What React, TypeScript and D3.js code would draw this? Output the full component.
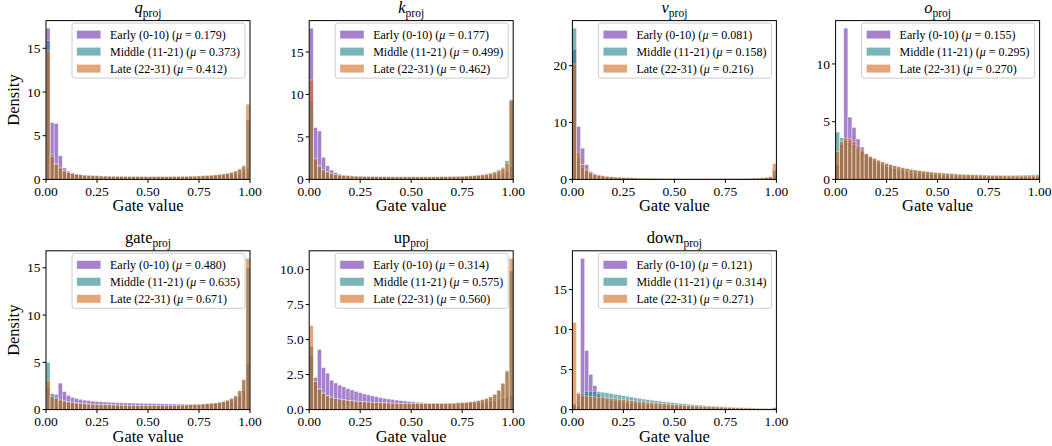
import React from 'react';
import * as d3 from 'd3';

// ---------- data ----------
const GROUPS = ['Early (0-10)', 'Middle (11-21)', 'Late (22-31)'];
const COLORS = ['#6a2fac', '#1e828a', '#d2691e'];
const PANEL_NAMES = ['q', 'k', 'v', 'o', 'gate', 'up', 'down'];
const PANEL_ITALIC = [true, true, true, true, false, false, false];
const MEANS = [
  ['0.179', '0.373', '0.412'],
  ['0.177', '0.499', '0.462'],
  ['0.081', '0.158', '0.216'],
  ['0.155', '0.295', '0.270'],
  ['0.480', '0.635', '0.671'],
  ['0.314', '0.575', '0.560'],
  ['0.121', '0.314', '0.271'],
];
const Y_TICKS = [
  [0, 5, 10, 15],
  [0, 5, 10, 15],
  [0, 10, 20],
  [0, 5, 10],
  [0, 5, 10, 15],
  [0, 2.5, 5, 7.5, 10],
  [0, 5, 10, 15],
];
const X_TICKS = [0, 0.25, 0.5, 0.75, 1];
const X_TICK_LABELS = ['0.00', '0.25', '0.50', '0.75', '1.00'];
const N_BINS = 50;

// density per bin (50 bins over [0,1])
const qEarly = [17.3, 6.5, 6.4, 2.7, 1.3, 0.95, 0.75, 0.62, 0.55, 0.5, 0.46, 0.43, 0.41, 0.39, 0.37, 0.36, 0.35, 0.34, 0.33, 0.33, 0.32, 0.32, 0.31, 0.31, 0.31, 0.3, 0.3, 0.3, 0.3, 0.3, 0.3, 0.3, 0.3, 0.3, 0.31, 0.31, 0.32, 0.33, 0.34, 0.36, 0.38, 0.4, 0.43, 0.46, 0.5, 0.55, 0.62, 0.72, 0.9, 1.2];
const qMiddle = [15.9, 2.8, 1.8, 1.4, 1.0, 0.8, 0.68, 0.6, 0.54, 0.5, 0.47, 0.44, 0.42, 0.4, 0.38, 0.37, 0.36, 0.35, 0.35, 0.34, 0.34, 0.33, 0.33, 0.33, 0.32, 0.32, 0.32, 0.32, 0.32, 0.32, 0.32, 0.33, 0.33, 0.34, 0.35, 0.36, 0.37, 0.39, 0.41, 0.44, 0.47, 0.51, 0.56, 0.62, 0.7, 0.8, 0.95, 1.15, 1.6, 6.8];
const qLate = [14.7, 2.6, 1.7, 1.3, 0.95, 0.78, 0.66, 0.58, 0.52, 0.48, 0.45, 0.42, 0.4, 0.38, 0.37, 0.36, 0.35, 0.34, 0.34, 0.33, 0.33, 0.33, 0.32, 0.32, 0.32, 0.32, 0.32, 0.32, 0.32, 0.32, 0.33, 0.33, 0.34, 0.35, 0.36, 0.37, 0.38, 0.4, 0.42, 0.45, 0.48, 0.52, 0.57, 0.63, 0.71, 0.82, 0.97, 1.2, 1.5, 8.6];

const kEarly = [17.8, 6.1, 5.7, 2.6, 1.6, 1.1, 0.8, 0.62, 0.52, 0.46, 0.42, 0.4, 0.38, 0.36, 0.35, 0.34, 0.33, 0.32, 0.32, 0.31, 0.31, 0.3, 0.3, 0.3, 0.3, 0.29, 0.29, 0.29, 0.29, 0.29, 0.29, 0.29, 0.29, 0.3, 0.3, 0.31, 0.31, 0.32, 0.33, 0.34, 0.36, 0.38, 0.4, 0.43, 0.47, 0.52, 0.6, 0.72, 0.95, 1.5];
const kMiddle = [9.3, 2.5, 1.6, 1.2, 0.9, 0.72, 0.6, 0.52, 0.47, 0.43, 0.4, 0.38, 0.36, 0.35, 0.34, 0.33, 0.32, 0.32, 0.31, 0.31, 0.31, 0.3, 0.3, 0.3, 0.3, 0.3, 0.3, 0.3, 0.3, 0.31, 0.31, 0.31, 0.32, 0.33, 0.34, 0.35, 0.36, 0.38, 0.4, 0.43, 0.47, 0.52, 0.58, 0.66, 0.77, 0.92, 1.12, 1.4, 2.2, 9.4];
const kLate = [11.7, 2.4, 1.5, 1.1, 0.85, 0.7, 0.58, 0.5, 0.45, 0.42, 0.39, 0.37, 0.35, 0.34, 0.33, 0.32, 0.32, 0.31, 0.31, 0.3, 0.3, 0.3, 0.3, 0.3, 0.3, 0.3, 0.3, 0.3, 0.3, 0.3, 0.31, 0.31, 0.32, 0.32, 0.33, 0.34, 0.35, 0.37, 0.39, 0.41, 0.44, 0.48, 0.53, 0.6, 0.7, 0.82, 1.0, 1.3, 1.9, 9.3];

const vEarly = [22.8, 9.3, 5.5, 2.6, 1.4, 1.0, 0.78, 0.62, 0.5, 0.42, 0.36, 0.32, 0.28, 0.25, 0.22, 0.2, 0.18, 0.17, 0.16, 0.15, 0.14, 0.13, 0.12, 0.12, 0.11, 0.11, 0.1, 0.1, 0.1, 0.1, 0.1, 0.1, 0.1, 0.1, 0.1, 0.1, 0.1, 0.1, 0.1, 0.11, 0.11, 0.12, 0.12, 0.13, 0.14, 0.15, 0.17, 0.2, 0.25, 0.5];
const vMiddle = [26.6, 3.9, 2.1, 1.5, 1.0, 0.8, 0.66, 0.56, 0.48, 0.42, 0.37, 0.33, 0.3, 0.27, 0.25, 0.23, 0.21, 0.2, 0.19, 0.18, 0.17, 0.16, 0.15, 0.15, 0.14, 0.14, 0.13, 0.13, 0.13, 0.13, 0.13, 0.13, 0.13, 0.13, 0.13, 0.13, 0.13, 0.14, 0.14, 0.15, 0.15, 0.16, 0.17, 0.18, 0.2, 0.22, 0.25, 0.3, 0.4, 1.6];
const vLate = [20.3, 4.8, 2.6, 1.8, 1.2, 0.9, 0.75, 0.63, 0.54, 0.47, 0.42, 0.38, 0.34, 0.31, 0.29, 0.27, 0.25, 0.24, 0.23, 0.22, 0.21, 0.2, 0.19, 0.18, 0.18, 0.17, 0.17, 0.17, 0.16, 0.16, 0.16, 0.16, 0.16, 0.16, 0.16, 0.17, 0.17, 0.17, 0.18, 0.18, 0.19, 0.2, 0.21, 0.22, 0.24, 0.26, 0.3, 0.36, 0.5, 2.8];

const oEarly = [1.3, 3.0, 13.1, 5.4, 4.5, 3.5, 2.8, 2.2, 1.85, 1.6, 1.4, 1.25, 1.1, 1.0, 0.9, 0.82, 0.75, 0.68, 0.62, 0.57, 0.52, 0.48, 0.44, 0.41, 0.38, 0.35, 0.33, 0.31, 0.29, 0.27, 0.26, 0.25, 0.24, 0.23, 0.22, 0.21, 0.2, 0.2, 0.19, 0.19, 0.18, 0.18, 0.18, 0.18, 0.17, 0.17, 0.17, 0.17, 0.17, 0.17];
const oMiddle = [4.1, 3.6, 3.4, 3.2, 3.0, 2.7, 2.4, 2.15, 1.95, 1.8, 1.65, 1.5, 1.38, 1.27, 1.17, 1.08, 1.0, 0.93, 0.87, 0.81, 0.76, 0.71, 0.67, 0.63, 0.6, 0.57, 0.54, 0.52, 0.5, 0.48, 0.46, 0.44, 0.43, 0.42, 0.41, 0.4, 0.39, 0.38, 0.37, 0.37, 0.36, 0.36, 0.36, 0.36, 0.37, 0.37, 0.38, 0.39, 0.4, 0.42];
const oLate = [2.4, 3.3, 3.6, 3.5, 3.3, 2.9, 2.55, 2.25, 2.0, 1.82, 1.66, 1.52, 1.4, 1.28, 1.18, 1.09, 1.01, 0.94, 0.88, 0.82, 0.77, 0.72, 0.68, 0.64, 0.6, 0.57, 0.54, 0.51, 0.49, 0.46, 0.44, 0.42, 0.41, 0.39, 0.38, 0.37, 0.36, 0.35, 0.34, 0.33, 0.32, 0.32, 0.31, 0.31, 0.3, 0.3, 0.3, 0.3, 0.3, 0.3];

const gateEarly = [2.3, 1.5, 1.6, 2.8, 1.9, 1.5, 1.3, 1.18, 1.08, 1.0, 0.95, 0.9, 0.86, 0.83, 0.8, 0.78, 0.76, 0.74, 0.72, 0.71, 0.7, 0.69, 0.68, 0.67, 0.66, 0.65, 0.64, 0.63, 0.62, 0.61, 0.6, 0.6, 0.59, 0.59, 0.59, 0.59, 0.6, 0.6, 0.61, 0.62, 0.64, 0.66, 0.7, 0.75, 0.82, 0.92, 1.1, 1.4, 2.0, 4.8];
const gateMiddle = [5.0, 1.7, 1.3, 1.1, 0.95, 0.85, 0.78, 0.72, 0.68, 0.64, 0.61, 0.58, 0.56, 0.54, 0.52, 0.51, 0.5, 0.49, 0.48, 0.47, 0.46, 0.46, 0.45, 0.45, 0.45, 0.45, 0.45, 0.45, 0.45, 0.46, 0.46, 0.47, 0.48, 0.49, 0.5, 0.52, 0.54, 0.56, 0.59, 0.62, 0.66, 0.71, 0.78, 0.87, 1.0, 1.18, 1.45, 1.95, 3.1, 15.0];
const gateLate = [3.1, 1.4, 1.15, 1.0, 0.88, 0.8, 0.73, 0.68, 0.64, 0.6, 0.57, 0.55, 0.53, 0.51, 0.5, 0.49, 0.48, 0.47, 0.46, 0.45, 0.45, 0.44, 0.44, 0.44, 0.44, 0.44, 0.44, 0.44, 0.44, 0.45, 0.45, 0.46, 0.47, 0.48, 0.49, 0.51, 0.53, 0.55, 0.58, 0.61, 0.65, 0.7, 0.77, 0.86, 0.99, 1.17, 1.45, 2.0, 3.2, 16.0];

const upEarly = [3.8, 2.3, 4.3, 3.0, 2.6, 2.1, 1.9, 1.75, 1.62, 1.5, 1.4, 1.3, 1.2, 1.12, 1.05, 0.98, 0.92, 0.86, 0.81, 0.76, 0.72, 0.68, 0.64, 0.61, 0.58, 0.55, 0.53, 0.51, 0.49, 0.47, 0.46, 0.45, 0.44, 0.43, 0.43, 0.43, 0.43, 0.43, 0.44, 0.45, 0.46, 0.48, 0.5, 0.53, 0.57, 0.62, 0.7, 0.8, 0.95, 1.0];
const upMiddle = [4.5, 2.0, 1.5, 1.2, 1.0, 0.9, 0.82, 0.76, 0.71, 0.67, 0.64, 0.61, 0.58, 0.56, 0.54, 0.52, 0.5, 0.49, 0.48, 0.47, 0.46, 0.45, 0.44, 0.44, 0.43, 0.43, 0.43, 0.43, 0.43, 0.43, 0.43, 0.44, 0.44, 0.45, 0.46, 0.47, 0.49, 0.51, 0.53, 0.56, 0.6, 0.65, 0.72, 0.8, 0.92, 1.1, 1.4, 1.9, 2.8, 9.9];
const upLate = [6.0, 2.0, 1.45, 1.15, 0.97, 0.87, 0.8, 0.74, 0.69, 0.65, 0.62, 0.59, 0.57, 0.55, 0.53, 0.51, 0.5, 0.49, 0.48, 0.47, 0.46, 0.45, 0.44, 0.44, 0.43, 0.43, 0.43, 0.43, 0.43, 0.43, 0.43, 0.43, 0.44, 0.44, 0.45, 0.46, 0.48, 0.5, 0.52, 0.55, 0.58, 0.63, 0.7, 0.78, 0.9, 1.07, 1.35, 1.85, 2.7, 10.8];

const downEarly = [0.5, 0.4, 18.9, 7.4, 4.4, 3.0, 1.9, 1.55, 1.3, 1.15, 1.05, 0.97, 0.9, 0.84, 0.78, 0.73, 0.68, 0.63, 0.59, 0.55, 0.51, 0.48, 0.45, 0.42, 0.39, 0.36, 0.34, 0.32, 0.3, 0.28, 0.26, 0.24, 0.22, 0.2, 0.19, 0.18, 0.17, 0.16, 0.15, 0.14, 0.13, 0.12, 0.11, 0.1, 0.09, 0.08, 0.07, 0.06, 0.05, 0.1];
const downMiddle = [0.7, 1.9, 2.0, 2.3, 2.3, 2.3, 2.25, 2.18, 2.1, 2.0, 1.92, 1.84, 1.75, 1.66, 1.57, 1.48, 1.4, 1.32, 1.25, 1.18, 1.11, 1.05, 0.99, 0.93, 0.88, 0.83, 0.78, 0.73, 0.68, 0.63, 0.59, 0.55, 0.51, 0.47, 0.44, 0.41, 0.38, 0.35, 0.32, 0.3, 0.28, 0.26, 0.24, 0.22, 0.2, 0.18, 0.16, 0.15, 0.14, 0.2];
const downLate = [10.9, 2.1, 1.8, 1.7, 1.65, 1.6, 1.55, 1.5, 1.45, 1.4, 1.35, 1.3, 1.25, 1.19, 1.13, 1.07, 1.02, 0.97, 0.92, 0.87, 0.82, 0.78, 0.74, 0.7, 0.66, 0.62, 0.58, 0.55, 0.52, 0.49, 0.46, 0.43, 0.4, 0.37, 0.35, 0.33, 0.31, 0.29, 0.27, 0.25, 0.23, 0.21, 0.19, 0.18, 0.17, 0.16, 0.15, 0.14, 0.13, 0.25];

const PANEL_DATA = [
  [qEarly, qMiddle, qLate],
  [kEarly, kMiddle, kLate],
  [vEarly, vMiddle, vLate],
  [oEarly, oMiddle, oLate],
  [gateEarly, gateMiddle, gateLate],
  [upEarly, upMiddle, upLate],
  [downEarly, downMiddle, downLate],
];

// ---------- layout ----------
const COL_X = [46, 309.2, 572.4, 835.6];
const ROW_Y = [20.6, 250.8];
const AW = 204;
const AH = 158.8;
const FONT = '"Liberation Serif", "Times New Roman", Times, serif';
const ALPHA = 0.6;

function Panel({ idx }: { idx: number }) {
  const col = idx % 4;
  const row = Math.floor(idx / 4);
  const left = COL_X[col];
  const top = ROW_Y[row];
  const series = PANEL_DATA[idx];
  const ymax = 1.05 * (d3.max(series.flat()) as number);
  const x = d3.scaleLinear().domain([0, 1]).range([left, left + AW]);
  const y = d3.scaleLinear().domain([0, ymax]).range([top + AH, top]);
  const bins = d3.range(N_BINS);
  const yt = Y_TICKS[idx];
  const fmt = yt.some((t) => !Number.isInteger(t)) ? d3.format('.1f') : d3.format('d');

  const legW = 173;
  const legH = 55;
  const legX = left + AW - 5 - legW;
  const legY = top + 2.5;

  return (
    <g>
      {series.map((vals, s) => (
        <g key={s}>
          {bins.map((i) => {
            const x0 = x(i / N_BINS);
            const x1 = x((i + 1) / N_BINS);
            return (
              <rect
                key={i}
                x={x0}
                y={y(vals[i])}
                width={x1 - x0}
                height={y(0) - y(vals[i])}
                fill={COLORS[s]}
                fillOpacity={ALPHA}
                stroke="#fff"
                strokeOpacity={ALPHA}
                strokeWidth={0.6}
              />
            );
          })}
        </g>
      ))}
      <rect x={left} y={top} width={AW} height={AH} fill="none" stroke="#000" strokeWidth={1} />
      {/* x ticks */}
      {X_TICKS.map((t, i) => (
        <g key={'x' + i}>
          <line x1={x(t)} x2={x(t)} y1={top + AH} y2={top + AH + 3.5} stroke="#000" strokeWidth={1} />
          <text x={x(t)} y={top + AH + 16.5} textAnchor="middle" fontSize={13.5} fontFamily={FONT}>
            {X_TICK_LABELS[i]}
          </text>
        </g>
      ))}
      {/* y ticks */}
      {yt.map((t, i) => (
        <g key={'y' + i}>
          <line x1={left - 3.5} x2={left} y1={y(t)} y2={y(t)} stroke="#000" strokeWidth={1} />
          <text x={left - 5.5} y={y(t) + 4.6} textAnchor="end" fontSize={13.5} fontFamily={FONT}>
            {fmt(t)}
          </text>
        </g>
      ))}
      {/* x label */}
      <text x={left + AW / 2} y={top + AH + 32} textAnchor="middle" fontSize={16.5} fontFamily={FONT}>
        Gate value
      </text>
      {col === 0 && (
        <text
          transform={`translate(${18.5},${top + AH / 2}) rotate(-90)`}
          textAnchor="middle"
          fontSize={16.5}
          fontFamily={FONT}
        >
          Density
        </text>
      )}
      {/* title */}
      <text x={left + AW / 2} y={top - 7.5} textAnchor="middle" fontSize={16.5} fontFamily={FONT}>
        <tspan fontStyle={PANEL_ITALIC[idx] ? 'italic' : 'normal'}>{PANEL_NAMES[idx]}</tspan>
        <tspan fontSize={11.5} dy={3.8}>proj</tspan>
      </text>
      {/* legend */}
      <rect x={legX} y={legY} width={legW} height={legH} rx={2.5} fill="#fff" fillOpacity={0.8} stroke="#cccccc" strokeWidth={1} />
      {GROUPS.map((g, s) => {
        const cy = legY + 11.5 + 17 * s;
        return (
          <g key={'l' + s}>
            <rect x={legX + 4.8} y={cy - 4.2} width={24} height={8.4} fill={COLORS[s]} fillOpacity={ALPHA} stroke="#fff" strokeOpacity={ALPHA} strokeWidth={0.6} />
            <text x={legX + 38} y={cy + 4.2} fontSize={12} fontFamily={FONT}>
              {g + ' ('}
              <tspan fontStyle="italic">μ</tspan>
              {' = ' + MEANS[idx][s] + ')'}
            </text>
          </g>
        );
      })}
    </g>
  );
}

export default function App() {
  return (
    <svg
      width={1052}
      height={446}
      style={{ position: 'absolute', left: 0, top: 0, background: '#fff' }}
      xmlns="http://www.w3.org/2000/svg"
    >
      <rect x={0} y={0} width={1052} height={446} fill="#fff" />
      {PANEL_NAMES.map((_, i) => (
        <Panel key={i} idx={i} />
      ))}
    </svg>
  );
}
